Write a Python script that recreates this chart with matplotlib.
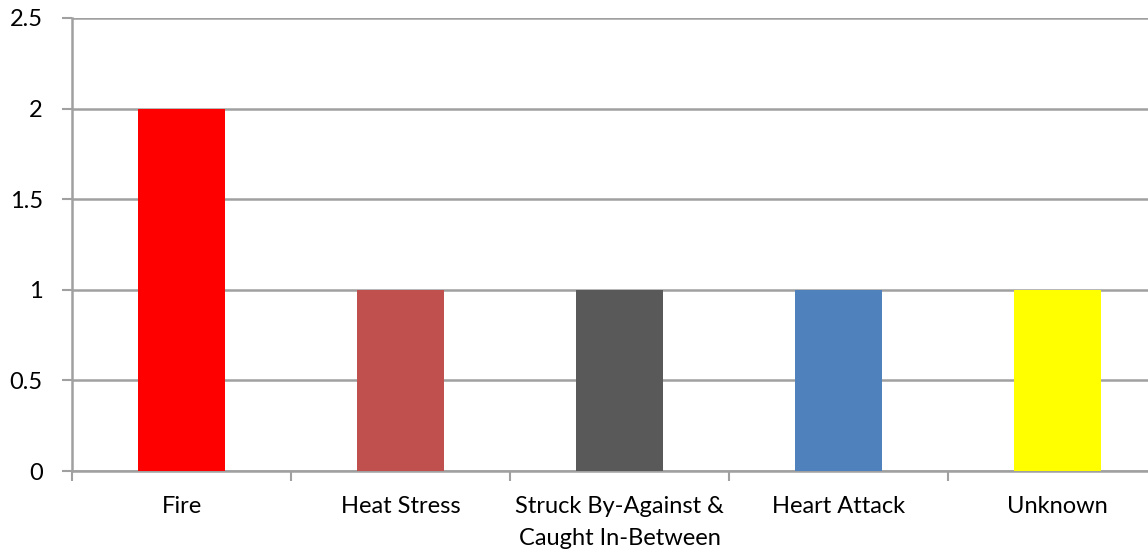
import matplotlib.pyplot as plt
import numpy as np

categories = ["Fire", "Heat Stress", "Struck By-Against &\nCaught In-Between",
              "Heart Attack", "Unknown"]
values = [2, 1, 1, 1, 1]
colors = ["#FF0000", "#C0504D", "#595959", "#4F81BD", "#FFFF00"]

plt.rcParams["font.family"] = ["Lato", "DejaVu Sans"]

fig = plt.figure(figsize=(11.48, 5.52), dpi=100)
# plot area runs past the right edge like the original
ax = fig.add_axes([72 / 1148, 81 / 552, 1095 / 1148, 453 / 552])

x = np.arange(len(categories))
ax.bar(x, values, width=0.4, color=colors, zorder=3)

ax.set_xlim(-0.5, len(categories) - 0.5)
ax.set_ylim(0, 2.5)
ax.set_yticks([0, 0.5, 1, 1.5, 2, 2.5])
ax.set_yticklabels(["0", "0.5", "1", "1.5", "2", "2.5"])
ax.set_xticks(x)
ax.set_xticklabels(categories, linespacing=1.65)
ax.set_xticks(np.arange(len(categories)) - 0.5, minor=True)

grid_c = "#A0A0A0"
ax.yaxis.grid(True, color=grid_c, linewidth=1.8, zorder=0)
for s in ["top", "right"]:
    ax.spines[s].set_visible(False)
for s in ["left", "bottom"]:
    ax.spines[s].set_color(grid_c)
    ax.spines[s].set_linewidth(1.8)

ax.tick_params(axis="y", length=7, width=1.5, color=grid_c, labelsize=17, pad=14)
ax.tick_params(axis="x", which="major", length=0, labelsize=17, pad=18)
ax.tick_params(axis="x", which="minor", length=7, width=1.5, color=grid_c)

fig.savefig("out.png", dpi=100)
